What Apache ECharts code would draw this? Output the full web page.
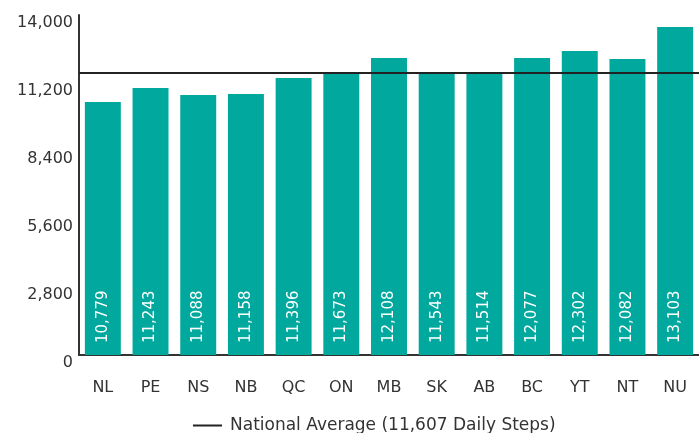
<!DOCTYPE html>
<html>
<head>
<meta charset="utf-8">
<script src="https://cdn.jsdelivr.net/npm/echarts@6/dist/echarts.min.js"></script>
<style>
  html, body { margin: 0; padding: 0; background: #fff; }
  #chart { width: 699px; height: 433px; }
</style>
</head>
<body>
<div id="chart"></div>
<script>
// provinces / territories
var provinces = ['NL', 'PE', 'NS', 'NB', 'QC', 'ON', 'MB', 'SK', 'AB', 'BC', 'YT', 'NT', 'NU'];
// bar heights as drawn in the picture
var barHeights = [10418, 10994, 10706, 10747, 11406, 11612, 12229, 11612, 11612, 12229, 12518, 12188, 13506];
// numbers printed inside the bars
var stepLabels = ['10,779', '11,243', '11,088', '11,158', '11,396', '11,673', '12,108', '11,543', '11,514', '12,077', '12,302', '12,082', '13,103'];
var nationalAvg = 11607;
var avgName = 'National Average (11,607 Daily Steps)';
var yTicks = [0, 2800, 5600, 8400, 11200, 14000];

var font = 'DejaVu Sans';
var chart = echarts.init(document.getElementById('chart'));

var option = {
  animation: false,
  textStyle: { fontFamily: font },
  grid: { left: 79, right: 0, top: 15, bottom: 78, outerBoundsMode: 'none' },
  legend: {
    data: [{ name: avgName, icon: 'rect' }],
    left: 188,
    top: 412,
    itemWidth: 29,
    itemHeight: 2,
    itemStyle: { color: '#222' },
    textStyle: { color: '#333', fontSize: 17, fontFamily: font, padding: [0, 0, 0, 3] }
  },
  xAxis: {
    type: 'category',
    data: provinces,
    axisLine: { lineStyle: { color: '#333', width: 2 } },
    axisTick: { show: false },
    axisLabel: { color: '#333', fontSize: 16, margin: 25 }
  },
  yAxis: {
    type: 'value',
    min: yTicks[0],
    max: yTicks[yTicks.length - 1],
    interval: 2800,
    splitLine: { show: false },
    axisLine: { show: true, lineStyle: { color: '#333', width: 2 } },
    axisTick: { show: false },
    axisLabel: {
      color: '#333',
      fontSize: 16,
      margin: 6,
      verticalAlign: 'top',
      formatter: function (v) { return v.toLocaleString('en-US'); }
    }
  },
  series: [
    {
      type: 'bar',
      data: barHeights,
      barCategoryGap: '24.6%',
      itemStyle: { color: '#00A89E' },
      label: {
        show: true,
        position: 'insideBottom',
        rotate: 90,
        align: 'left',
        verticalAlign: 'middle',
        distance: 12,
        color: '#fff',
        fontSize: 15,
        formatter: function (p) { return stepLabels[p.dataIndex]; }
      },
      markLine: {
        silent: true,
        symbol: 'none',
        label: { show: false },
        lineStyle: { color: '#222', width: 2, type: 'solid' },
        data: [{ yAxis: nationalAvg }]
      }
    },
    {
      // legend entry only
      name: avgName,
      type: 'line',
      data: [],
      itemStyle: { color: '#222' },
      lineStyle: { color: '#222' }
    }
  ]
};
chart.setOption(option);
window.onresize = chart.resize;
</script>
</body>
</html>
